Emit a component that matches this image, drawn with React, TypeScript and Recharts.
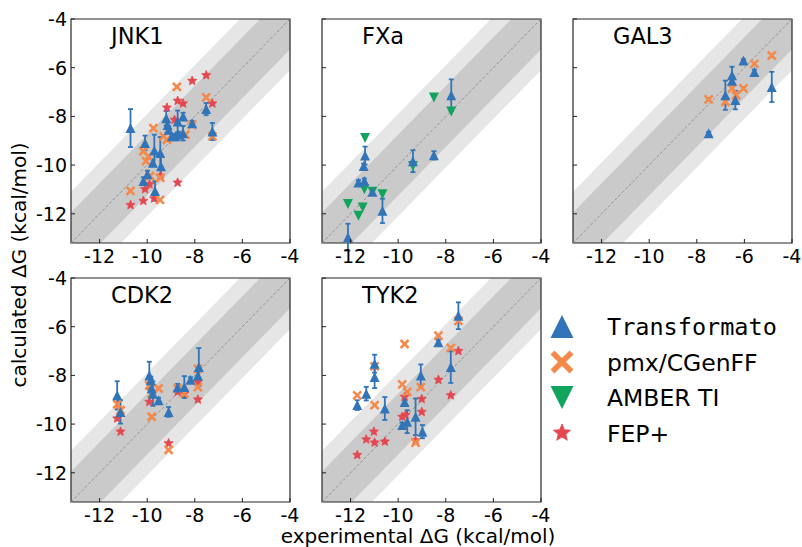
import React from "react";
import { Area, ComposedChart, ErrorBar, Line, ReferenceArea, Scatter, XAxis, YAxis } from "recharts";

type Pt = { x: number; y: number; e?: number };

const ticks = [-12, -10, -8, -6, -4];
const lo = -13.2;
const hi = -4;

// JNK1
const jnk1Transformato: Pt[] = [
  { x: -10.7, y: -8.48, e: 0.78 },
  { x: -10.09, y: -9.09, e: 0.3 },
  { x: -9.7, y: -9.4, e: 0.65 },
  { x: -9.45, y: -9.5, e: 0.65 },
  { x: -9.76, y: -9.9, e: 0.12 },
  { x: -9.42, y: -10.05, e: 0.45 },
  { x: -9.99, y: -10.38, e: 0.15 },
  { x: -10.16, y: -10.65, e: 0.15 },
  { x: -9.67, y: -11.06, e: 0.4 },
  { x: -9.2, y: -8.08, e: 0.3 },
  { x: -9.14, y: -8.35, e: 0.15 },
  { x: -9.1, y: -8.55, e: 0.15 },
  { x: -8.72, y: -8.21, e: 0.45 },
  { x: -8.96, y: -8.82, e: 0.1 },
  { x: -8.82, y: -8.82, e: 0.1 },
  { x: -8.68, y: -8.75, e: 0.1 },
  { x: -8.49, y: -8.69, e: 0.3 },
  { x: -8.49, y: -8.0, e: 0.15 },
  { x: -8.11, y: -8.28, e: 0.1 },
  { x: -7.52, y: -7.7, e: 0.25 },
  { x: -7.26, y: -8.62, e: 0.35 },
];
const jnk1Pmx: Pt[] = [
  { x: -8.75, y: -6.79 }, { x: -7.52, y: -7.22 }, { x: -7.26, y: -8.82 },
  { x: -9.74, y: -8.48 }, { x: -10.16, y: -9.43 }, { x: -9.95, y: -9.64 },
  { x: -10.05, y: -9.84 }, { x: -9.31, y: -8.82 }, { x: -9.17, y: -8.96 },
  { x: -8.39, y: -8.75 }, { x: -8.11, y: -8.35 }, { x: -10.7, y: -11.06 },
  { x: -9.46, y: -11.43 }, { x: -9.45, y: -10.52 }, { x: -9.88, y: -10.45 },
];
const jnk1Fep: Pt[] = [
  { x: -7.52, y: -6.31 }, { x: -8.11, y: -6.54 }, { x: -7.26, y: -7.47 },
  { x: -8.72, y: -7.36 }, { x: -8.49, y: -7.47 }, { x: -9.17, y: -7.64 },
  { x: -8.72, y: -10.72 }, { x: -10.7, y: -11.64 }, { x: -10.16, y: -11.47 },
  { x: -9.71, y: -11.37 }, { x: -10.09, y: -10.99 }, { x: -9.45, y: -10.45 },
  { x: -9.9, y: -10.79 }, { x: -8.85, y: -8.14 },
];

// FXa
const fxaTransformato: Pt[] = [
  { x: -7.77, y: -7.13, e: 0.65 },
  { x: -8.5, y: -9.6, e: 0.17 },
  { x: -9.38, y: -9.84, e: 0.45 },
  { x: -11.39, y: -9.61, e: 0.37 },
  { x: -11.45, y: -10.04, e: 0.1 },
  { x: -11.42, y: -10.65, e: 0.1 },
  { x: -11.67, y: -10.72, e: 0.1 },
  { x: -11.08, y: -11.1, e: 0.1 },
  { x: -10.66, y: -11.88, e: 0.5 },
  { x: -12.11, y: -12.96, e: 0.55 },
];
const fxaAmber: Pt[] = [
  { x: -8.5, y: -7.22 }, { x: -7.77, y: -7.8 }, { x: -11.39, y: -8.89 },
  { x: -9.38, y: -10.04 }, { x: -11.42, y: -10.99 }, { x: -10.66, y: -11.2 },
  { x: -12.11, y: -11.6 }, { x: -11.49, y: -11.74 }, { x: -11.67, y: -12.08 },
  { x: -11.08, y: -11.1 },
];

// GAL3
const gal3Transformato: Pt[] = [
  { x: -6.04, y: -5.7, e: 0.05 },
  { x: -6.52, y: -6.31, e: 0.35 },
  { x: -6.52, y: -6.54, e: 0.1 },
  { x: -5.58, y: -6.18, e: 0.1 },
  { x: -6.8, y: -7.13, e: 0.6 },
  { x: -6.38, y: -7.33, e: 0.38 },
  { x: -4.85, y: -6.79, e: 0.62 },
  { x: -7.5, y: -8.69, e: 0.05 },
];
const gal3Pmx: Pt[] = [
  { x: -4.85, y: -5.5 }, { x: -5.58, y: -5.84 }, { x: -7.5, y: -7.3 },
  { x: -6.8, y: -7.4 }, { x: -6.52, y: -6.85 }, { x: -6.04, y: -6.85 },
  { x: -6.35, y: -7.13 },
];

// CDK2
const cdk2Transformato: Pt[] = [
  { x: -11.26, y: -8.82, e: 0.58 },
  { x: -11.12, y: -9.5, e: 0.48 },
  { x: -9.91, y: -8.0, e: 0.56 },
  { x: -9.85, y: -8.2, e: 0.15 },
  { x: -9.81, y: -8.54, e: 0.15 },
  { x: -9.76, y: -8.75, e: 0.5 },
  { x: -9.52, y: -9.02, e: 0.1 },
  { x: -9.1, y: -9.5, e: 0.2 },
  { x: -8.72, y: -8.5, e: 0.15 },
  { x: -8.44, y: -8.48, e: 0.45 },
  { x: -8.18, y: -8.18, e: 0.1 },
  { x: -7.83, y: -7.66, e: 0.78 },
  { x: -7.87, y: -8.0, e: 0.15 },
];
const cdk2Pmx: Pt[] = [
  { x: -11.26, y: -9.18 }, { x: -11.12, y: -9.43 }, { x: -9.91, y: -8.41 },
  { x: -9.81, y: -9.7 }, { x: -9.52, y: -8.54 }, { x: -9.81, y: -8.75 },
  { x: -8.72, y: -8.54 }, { x: -8.44, y: -8.75 }, { x: -7.87, y: -7.73 },
  { x: -7.87, y: -8.48 }, { x: -9.1, y: -11.06 },
];
const cdk2Fep: Pt[] = [
  { x: -11.26, y: -9.77 }, { x: -11.12, y: -10.31 }, { x: -9.91, y: -9.09 },
  { x: -8.72, y: -8.68 }, { x: -8.44, y: -8.75 }, { x: -7.87, y: -8.99 },
  { x: -9.1, y: -10.79 }, { x: -7.87, y: -8.27 },
];

// TYK2
const tyk2Transformato: Pt[] = [
  { x: -11.72, y: -9.22, e: 0.2 },
  { x: -11.34, y: -8.75, e: 0.28 },
  { x: -10.99, y: -7.52, e: 0.37 },
  { x: -10.99, y: -8.07, e: 0.45 },
  { x: -10.56, y: -9.36, e: 0.47 },
  { x: -9.83, y: -10.04, e: 0.1 },
  { x: -9.73, y: -9.09, e: 0.1 },
  { x: -9.62, y: -9.9, e: 0.47 },
  { x: -9.27, y: -9.7, e: 0.75 },
  { x: -9.05, y: -8.0, e: 0.45 },
  { x: -8.98, y: -10.31, e: 0.27 },
  { x: -8.31, y: -6.64, e: 0.1 },
  { x: -7.79, y: -7.66, e: 0.65 },
  { x: -7.47, y: -5.55, e: 0.55 },
];
const tyk2Pmx: Pt[] = [
  { x: -11.72, y: -8.82 }, { x: -10.99, y: -7.63 }, { x: -10.99, y: -9.22 },
  { x: -9.73, y: -6.71 }, { x: -9.83, y: -8.37 }, { x: -9.62, y: -8.68 },
  { x: -9.05, y: -8.48 }, { x: -8.31, y: -6.37 }, { x: -7.79, y: -6.87 },
  { x: -7.47, y: -5.76 }, { x: -9.27, y: -10.76 },
];
const tyk2Fep: Pt[] = [
  { x: -11.72, y: -11.27 }, { x: -11.34, y: -10.63 }, { x: -10.99, y: -10.76 },
  { x: -11.02, y: -10.31 }, { x: -10.56, y: -10.72 }, { x: -9.83, y: -9.7 },
  { x: -9.69, y: -9.63 }, { x: -9.73, y: -8.88 }, { x: -9.27, y: -10.67 },
  { x: -9.01, y: -9.5 }, { x: -9.01, y: -8.97 }, { x: -8.31, y: -8.18 },
  { x: -7.79, y: -8.82 }, { x: -7.47, y: -7.0 },
];

const legendLabels = ["Transformato", "pmx/CGenFF", "AMBER TI", "FEP+"];

const BLUE = "#3274b8";
const ORANGE = "#f5894a";
const GREEN = "#12a35c";
const RED = "#e34850";
const FONT = '"DejaVu Sans", sans-serif';

// diagonal y = x with +-1.25 and +-2.1 bands
const diagonal = [lo, hi].map((v) => ({ x: v, d: v, inner: [v - 1.25, v + 1.25], outer: [v - 2.1, v + 2.1] }));

const PLOT_W = 219;
const PLOT_H = 224;
const Y_W = 50;
const TOP = 12;
const RIGHT = 16;
const X_H = 32;

function triUp(color: string, s: number) {
  return (p: any) =>
    p.cx == null ? <g /> : (
      <path d={`M${p.cx},${p.cy - s / 2}L${p.cx + s / 2},${p.cy + s / 2}L${p.cx - s / 2},${p.cy + s / 2}Z`} fill={color} />
    );
}

function triDown(color: string, s: number) {
  return (p: any) =>
    p.cx == null ? <g /> : (
      <path d={`M${p.cx},${p.cy + s / 2}L${p.cx + s / 2},${p.cy - s / 2}L${p.cx - s / 2},${p.cy - s / 2}Z`} fill={color} />
    );
}

function cross(color: string, s: number, w: number) {
  return (p: any) => {
    if (p.cx == null) return <g />;
    const h = s / 2;
    return (
      <g stroke={color} strokeWidth={w}>
        <line x1={p.cx - h} y1={p.cy - h} x2={p.cx + h} y2={p.cy + h} />
        <line x1={p.cx - h} y1={p.cy + h} x2={p.cx + h} y2={p.cy - h} />
      </g>
    );
  };
}

function star(color: string, r: number) {
  return (p: any) => {
    if (p.cx == null) return <g />;
    const pts: string[] = [];
    for (let i = 0; i < 10; i++) {
      const rr = i % 2 === 0 ? r : r * 0.45;
      const a = (Math.PI / 5) * i - Math.PI / 2;
      pts.push(`${p.cx + rr * Math.cos(a)},${p.cy + rr * Math.sin(a)}`);
    }
    return <polygon points={pts.join(" ")} fill={color} stroke={color} strokeWidth={0.8} strokeLinejoin="round" />;
  };
}

const XTick = (p: any) => (
  <g>
    <line x1={p.x} x2={p.x} y1={p.y} y2={p.y - 4} stroke="#222" strokeWidth={1} />
    <text x={p.x} y={p.y + 20} textAnchor="middle" fontSize={19} fontFamily={FONT} fill="#000">
      {p.payload.value}
    </text>
  </g>
);

const YTick = (showLabel: boolean) => (p: any) => (
  <g>
    <line x1={p.x} x2={p.x + 4} y1={p.y} y2={p.y} stroke="#222" strokeWidth={1} />
    {showLabel && (
      <text x={p.x - 4} y={p.y + 7} textAnchor="end" fontSize={19} fontFamily={FONT} fill="#000">
        {p.payload.value}
      </text>
    )}
  </g>
);

type Series = { data: Pt[]; shape: any; err?: boolean };

function Panel({ left, top, showY, series }: { left: number; top: number; showY: boolean; series: Series[] }) {
  return (
    <div style={{ position: "absolute", left: left - Y_W, top: top - TOP }}>
      <ComposedChart
        width={Y_W + PLOT_W + RIGHT}
        height={TOP + PLOT_H + X_H}
        data={diagonal}
        margin={{ top: TOP, right: RIGHT, bottom: 0, left: 0 }}
      >
        <XAxis
          type="number"
          dataKey="x"
          domain={[lo, hi]}
          ticks={ticks}
          allowDataOverflow
          height={X_H}
          tickLine={false}
          tickSize={0}
          tickMargin={0}
          axisLine={false}
          tick={XTick}
        />
        <YAxis
          type="number"
          dataKey="y"
          domain={[lo, hi]}
          ticks={ticks}
          allowDataOverflow
          width={Y_W}
          tickLine={false}
          tickSize={0}
          tickMargin={0}
          axisLine={false}
          tick={YTick(showY)}
        />
        <Area dataKey="outer" type="linear" stroke="none" fill="#e6e6e6" fillOpacity={1} isAnimationActive={false} />
        <Area dataKey="inner" type="linear" stroke="none" fill="#cacaca" fillOpacity={1} isAnimationActive={false} />
        <Line dataKey="d" type="linear" stroke="#8c8c8c" strokeWidth={0.9} strokeDasharray="3 2" dot={false} isAnimationActive={false} />
        {series.map((s, i) => (
          <Scatter key={i} data={s.data} shape={s.shape} isAnimationActive={false}>
            {s.err && <ErrorBar dataKey="e" direction="y" width={2.5} stroke={BLUE} strokeWidth={1.8} />}
          </Scatter>
        ))}
        <ReferenceArea x1={lo} x2={hi} y1={lo} y2={hi} fill="none" fillOpacity={0} stroke="#262626" strokeWidth={1.2} />
      </ComposedChart>
    </div>
  );
}

const blueShape = triUp(BLUE, 10);
const orangeShape = cross(ORANGE, 8, 2.6);
const greenShape = triDown(GREEN, 10);
const redShape = star(RED, 4.8);

const COLS = [71, 322, 573];
const ROWS = [19, 278];

const panels = [
  { title: "JNK1", c: 0, r: 0, series: [{ data: jnk1Fep, shape: redShape }, { data: jnk1Pmx, shape: orangeShape }, { data: jnk1Transformato, shape: blueShape, err: true }] },
  { title: "FXa", c: 1, r: 0, series: [{ data: fxaAmber, shape: greenShape }, { data: fxaTransformato, shape: blueShape, err: true }] },
  { title: "GAL3", c: 2, r: 0, series: [{ data: gal3Pmx, shape: orangeShape }, { data: gal3Transformato, shape: blueShape, err: true }] },
  { title: "CDK2", c: 0, r: 1, series: [{ data: cdk2Fep, shape: redShape }, { data: cdk2Pmx, shape: orangeShape }, { data: cdk2Transformato, shape: blueShape, err: true }] },
  { title: "TYK2", c: 1, r: 1, series: [{ data: tyk2Fep, shape: redShape }, { data: tyk2Pmx, shape: orangeShape }, { data: tyk2Transformato, shape: blueShape, err: true }] },
];

const legendShapes = [triUp(BLUE, 23), cross(ORANGE, 19, 5.5), triDown(GREEN, 23), star(RED, 9)];

export default function App() {
  return (
    <div style={{ position: "absolute", left: 0, top: 0, width: 802, height: 547, background: "#fff", overflow: "hidden" }}>
      {panels.map((p) => (
        <Panel key={p.title} left={COLS[p.c]} top={ROWS[p.r]} showY={p.c === 0} series={p.series} />
      ))}
      <svg width={802} height={547} style={{ position: "absolute", left: 0, top: 0, pointerEvents: "none" }}>
        {panels.map((p) => (
          <text key={p.title} x={COLS[p.c] + 40} y={ROWS[p.r] + 24.5} fontSize={22.5} fontFamily={FONT} fill="#000">
            {p.title}
          </text>
        ))}
        <text x={418} y={543} textAnchor="middle" fontSize={20} fontFamily={FONT} fill="#000">
          experimental ΔG (kcal/mol)
        </text>
        <text x={26} y={265} transform="rotate(-90 26 265)" textAnchor="middle" fontSize={20} fontFamily={FONT} fill="#000">
          calculated ΔG (kcal/mol)
        </text>
        {legendLabels.map((label, i) => {
          const cy = 326.5 + i * 35.5;
          return (
            <g key={label}>
              {legendShapes[i]({ cx: 562, cy })}
              <text
                x={607}
                y={cy + 8.6}
                fontSize={23.5}
                fontFamily={i === 0 ? '"DejaVu Sans Mono", monospace' : FONT}
                fill="#000"
              >
                {label}
              </text>
            </g>
          );
        })}
      </svg>
    </div>
  );
}
